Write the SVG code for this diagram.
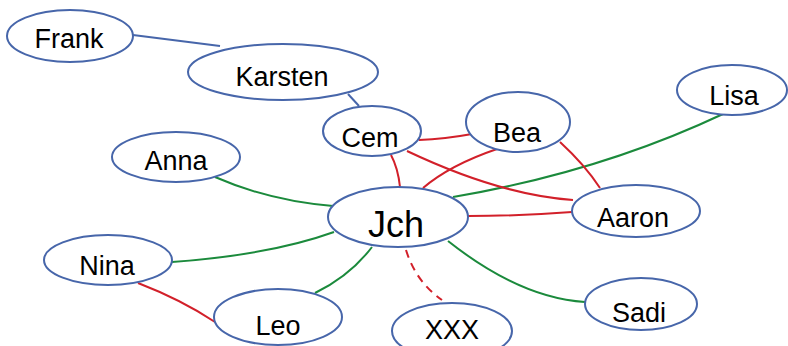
<svg xmlns="http://www.w3.org/2000/svg" width="788" height="346" viewBox="0 0 788 346">
<style>
.n ellipse{fill:#fff;stroke:#4766aa;stroke-width:2}
.n text{font-family:"Liberation Sans",Arial,sans-serif;font-size:27px;fill:#000;text-anchor:middle}
.e path{fill:none;stroke-width:2}
.b{stroke:#4766aa}
.r{stroke:#d2202a}
.g{stroke:#1b8a3c}
.d{stroke-dasharray:8 6}
</style>
<rect width="788" height="346" fill="#fff"/>
<g id="connectors" class="e">
<path class="b" d="M133 35 L220 46"/>
<path class="b" d="M348 94 L359 106"/>
<path class="g" d="M215 177 Q270 201 333 206"/>
<path class="g" d="M172 262 Q270 255 334 232"/>
<path class="r" d="M138 283 Q182 300 215 322"/>
<path class="g" d="M315 293 Q350 276 372 247"/>
<path class="r d" d="M406 250 Q416 282 442 300"/>
<path class="g" d="M448 241 Q520 298 585 302"/>
<path class="r" d="M468 216 Q520 216 572 212"/>
<path class="g" d="M453 197 Q600 172 723 114"/>
<path class="r" d="M400 187 Q398 168 391 155"/>
<path class="r" d="M423 188 Q450 165 497 149"/>
<path class="r" d="M419 140 Q445 139 472 134"/>
<path class="r" d="M407 151 Q500 195 573 200"/>
<path class="r" d="M560 142 Q585 165 600 188"/>
</g>
<g id="frank" class="n"><ellipse cx="70" cy="36" rx="63" ry="26"/><text x="69" y="48">Frank</text></g>
<g id="karsten" class="n"><ellipse cx="283" cy="72" rx="95" ry="28"/><text x="282" y="86">Karsten</text></g>
<g id="cem" class="n"><ellipse cx="372" cy="131" rx="49" ry="25"/><text x="370" y="147">Cem</text></g>
<g id="anna" class="n"><ellipse cx="176" cy="157" rx="64" ry="25"/><text x="176" y="170">Anna</text></g>
<g id="bea" class="n"><ellipse cx="518" cy="122" rx="52" ry="30"/><text x="517" y="142">Bea</text></g>
<g id="lisa" class="n"><ellipse cx="732" cy="90" rx="55" ry="25"/><text x="734" y="105">Lisa</text></g>
<g id="aaron" class="n"><ellipse cx="636" cy="211" rx="64" ry="26"/><text x="633" y="227">Aaron</text></g>
<g id="jch" class="n"><ellipse cx="398" cy="217" rx="70" ry="30"/><text x="396" y="237" style="font-size:36px">Jch</text></g>
<g id="nina" class="n"><ellipse cx="108" cy="260" rx="64" ry="25"/><text x="107" y="275">Nina</text></g>
<g id="leo" class="n"><ellipse cx="278" cy="317" rx="64" ry="28"/><text x="278" y="335">Leo</text></g>
<g id="sadi" class="n"><ellipse cx="641" cy="304" rx="56" ry="26"/><text x="639" y="322">Sadi</text></g>
<g id="xxx" class="n"><ellipse cx="452" cy="331" rx="60" ry="28"/><text x="452" y="339">XXX</text></g>
</svg>
